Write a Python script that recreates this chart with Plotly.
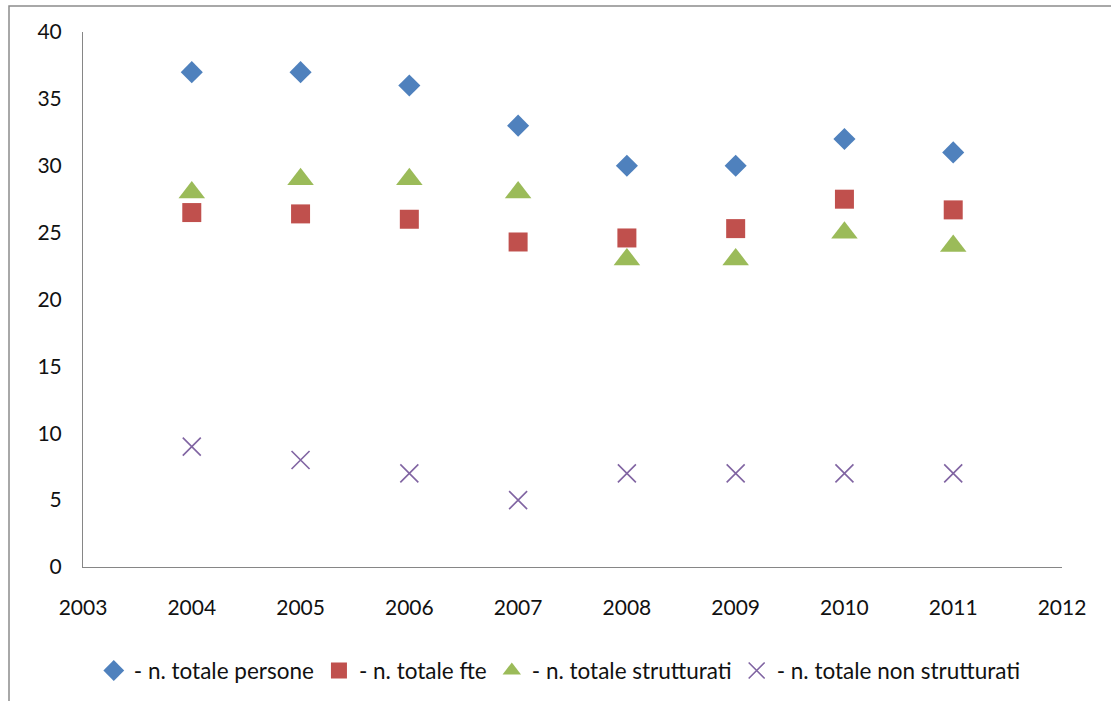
import plotly.graph_objects as go

years = [2004, 2005, 2006, 2007, 2008, 2009, 2010, 2011]
persone = [37, 37, 36, 33, 30, 30, 32, 31]
fte = [26.5, 26.4, 26.0, 24.3, 24.6, 25.3, 27.5, 26.7]
strutturati = [28, 29, 29, 28, 23, 23, 25, 24]
non_strutturati = [9, 8, 7, 5, 7, 7, 7, 7]

names = ["- n. totale persone", "- n. totale fte", "- n. totale strutturati", "- n. totale non strutturati"]
x_ticks = list(range(2003, 2013))
y_ticks = list(range(0, 45, 5))

fig = go.Figure()
fig.add_trace(go.Scatter(x=years, y=persone, mode="markers", name=names[0],
                         marker=dict(symbol="diamond", size=17, color="#4F81BD")))
fig.add_trace(go.Scatter(x=years, y=fte, mode="markers", name=names[1],
                         marker=dict(symbol="square", size=19, color="#C0504D")))
fig.add_trace(go.Scatter(x=years, y=strutturati, mode="markers", name=names[2],
                         marker=dict(symbol="triangle-up", size=23, color="#9BBB59")))
fig.add_trace(go.Scatter(x=years, y=non_strutturati, mode="markers", name=names[3],
                         marker=dict(symbol="x-thin-open", size=18, color="#8064A2",
                                     line=dict(width=1.6, color="#8064A2"))))

font_family = "Lato, 'Open Sans', sans-serif"
fig.update_layout(
    width=1111, height=701,
    margin=dict(l=83, r=49, t=32, b=134, autoexpand=False),
    paper_bgcolor="white", plot_bgcolor="white",
    font=dict(family=font_family, size=21, color="#111111"),
    showlegend=True,
    legend=dict(orientation="h", x=0.487, xanchor="center", y=-0.154, yanchor="top",
                font=dict(size=22.5), itemwidth=30, bgcolor="rgba(0,0,0,0)"),
    xaxis=dict(range=[2003, 2012], tickmode="array", tickvals=x_ticks,
               ticktext=[str(v) for v in x_ticks], showgrid=False, zeroline=False,
               showline=True, linecolor="#868686", linewidth=1, ticks="",
               ticklabelstandoff=22),
    yaxis=dict(range=[0, 40], tickmode="array", tickvals=y_ticks,
               ticktext=[str(v) for v in y_ticks], showgrid=False, zeroline=False,
               showline=True, linecolor="#868686", linewidth=1, ticks="",
               ticklabelstandoff=16),
    shapes=[dict(type="rect", xref="paper", yref="paper",
                 x0=(9 - 83) / 979, x1=1.2, y0=-0.4, y1=(567 - 6) / 535,
                 line=dict(color="#8C8C8C", width=1.5), fillcolor="rgba(0,0,0,0)",
                 layer="below")],
)

fig.write_html("out.html")
